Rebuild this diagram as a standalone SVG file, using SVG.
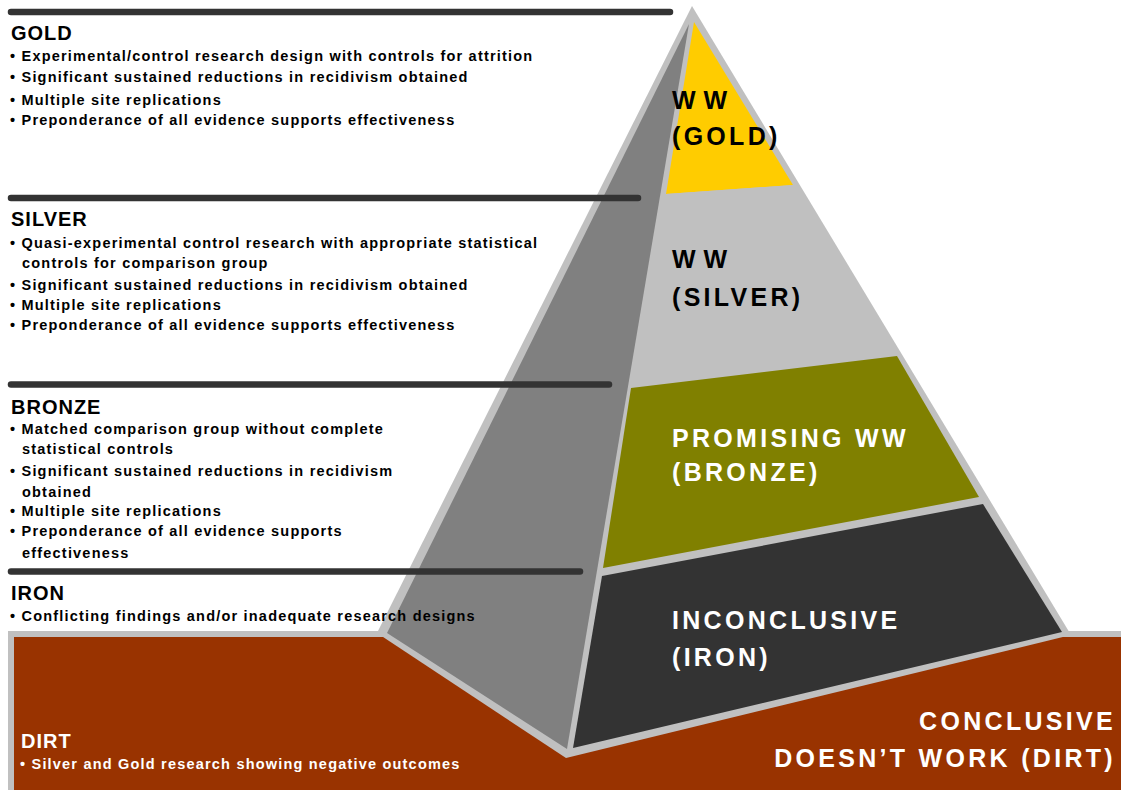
<svg xmlns="http://www.w3.org/2000/svg" width="1121" height="790" viewBox="0 0 1121 790">
  <style>
    .hd { font-family: 'Liberation Sans', Arial, sans-serif; font-weight: bold; font-size: 20px; letter-spacing: 1px; fill: #000; }
    .bl { font-family: 'Liberation Sans', Arial, sans-serif; font-weight: bold; font-size: 14.5px; letter-spacing: 1.2px; fill: #000; }
    .pl { font-family: 'Liberation Sans', Arial, sans-serif; font-weight: bold; font-size: 25px; letter-spacing: 3.3px; }
    .wh { fill: #fff; }
    .bk { fill: #000; }
    .sep { stroke: #333333; stroke-width: 6.5; stroke-linecap: round; fill: none; }
    .edge { fill: #c0c0c0; }
  </style>

  <g id="dirt">
    <rect x="8" y="631" width="1113" height="159" class="edge"/>
    <rect x="14" y="637" width="1107" height="153" fill="#993300"/>
  </g>

  <g id="pyramid">
    <polygon class="edge" points="692,6 1071,635 566,758 377,633"/>
    <polygon id="left-face" points="689,24 387,633 567,749" fill="#808080"/>
  </g>

  <g id="tier-gold">
    <polygon points="694,22 793,185 666,194" fill="#ffcc00"/>
    <text class="pl bk" x="672" y="109" style="letter-spacing:8px">WW</text>
    <text class="pl bk" x="672" y="145">(GOLD)</text>
  </g>

  <g id="tier-silver">
    <polygon points="666,194 793,185 896,352 632,384" fill="#c0c0c0"/>
    <text class="pl bk" x="672" y="268" style="letter-spacing:8px">WW</text>
    <text class="pl bk" x="672" y="306">(SILVER)</text>
  </g>

  <g id="tier-bronze">
    <polygon points="631,388 897,356 979,497 603,568" fill="#808000"/>
    <text class="pl wh" x="672" y="447">PROMISING WW</text>
    <text class="pl wh" x="672" y="481">(BRONZE)</text>
  </g>

  <g id="tier-iron">
    <polygon points="602,576 983,504 1062,632 573,748" fill="#333333"/>
    <text class="pl wh" x="672" y="629">INCONCLUSIVE</text>
    <text class="pl wh" x="672" y="666">(IRON)</text>
  </g>

  <g id="tier-dirt-label">
    <text class="pl wh" x="1116" y="730" text-anchor="end">CONCLUSIVE</text>
    <text class="pl wh" x="1116" y="767" text-anchor="end">DOESN’T WORK (DIRT)</text>
  </g>

  <g id="separators">
    <line class="sep" x1="11" y1="12" x2="670" y2="12"/>
    <line class="sep" x1="11" y1="198" x2="638" y2="198"/>
    <line class="sep" x1="11" y1="384.5" x2="609" y2="384.5"/>
    <line class="sep" x1="11" y1="571.5" x2="580" y2="571.5"/>
  </g>

  <g id="desc-gold">
    <text class="hd" x="11" y="40">GOLD</text>
    <text class="bl" x="10" y="61">• Experimental/control research design with controls for attrition</text>
    <text class="bl" x="10" y="82">• Significant sustained reductions in recidivism obtained</text>
    <text class="bl" x="10" y="105">• Multiple site replications</text>
    <text class="bl" x="10" y="125">• Preponderance of all evidence supports effectiveness</text>
  </g>

  <g id="desc-silver">
    <text class="hd" x="11" y="226">SILVER</text>
    <text class="bl" x="10" y="248">• Quasi-experimental control research with appropriate statistical</text>
    <text class="bl" x="22" y="268">controls for comparison group</text>
    <text class="bl" x="10" y="290">• Significant sustained reductions in recidivism obtained</text>
    <text class="bl" x="10" y="310">• Multiple site replications</text>
    <text class="bl" x="10" y="330">• Preponderance of all evidence supports effectiveness</text>
  </g>

  <g id="desc-bronze">
    <text class="hd" x="11" y="414">BRONZE</text>
    <text class="bl" x="10" y="434">• Matched comparison group without complete</text>
    <text class="bl" x="22" y="454">statistical controls</text>
    <text class="bl" x="10" y="476">• Significant sustained reductions in recidivism</text>
    <text class="bl" x="22" y="497">obtained</text>
    <text class="bl" x="10" y="516">• Multiple site replications</text>
    <text class="bl" x="10" y="536">• Preponderance of all evidence supports</text>
    <text class="bl" x="22" y="558">effectiveness</text>
  </g>

  <g id="desc-iron">
    <text class="hd" x="11" y="600">IRON</text>
    <text class="bl" x="10" y="621">• Conflicting findings and/or inadequate research designs</text>
  </g>

  <g id="desc-dirt">
    <text class="hd wh" x="21" y="748" style="fill:#fff">DIRT</text>
    <text class="bl" x="20" y="769" style="fill:#fff">• Silver and Gold research showing negative outcomes</text>
  </g>
</svg>
